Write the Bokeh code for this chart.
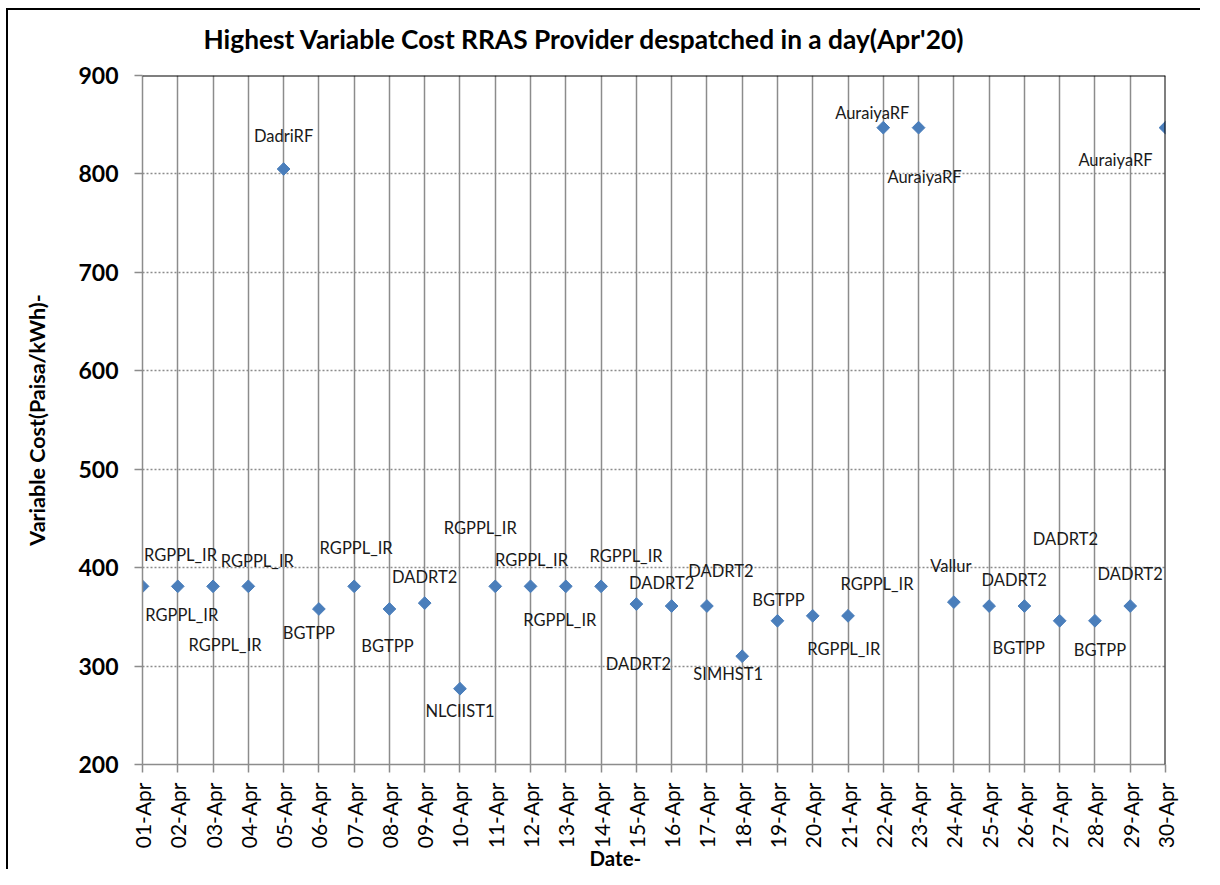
import math
from bokeh.plotting import figure
from bokeh.models import (ColumnDataSource, Range1d, FixedTicker, Span, Title)
from bokeh.core.properties import value
from bokeh.embed import file_html
from bokeh.resources import INLINE

# ---- data ----
dates = ["01-Apr", "02-Apr", "03-Apr", "04-Apr", "05-Apr", "06-Apr", "07-Apr", "08-Apr",
         "09-Apr", "10-Apr", "11-Apr", "12-Apr", "13-Apr", "14-Apr", "15-Apr", "16-Apr",
         "17-Apr", "18-Apr", "19-Apr", "20-Apr", "21-Apr", "22-Apr", "23-Apr", "24-Apr",
         "25-Apr", "26-Apr", "27-Apr", "28-Apr", "29-Apr", "30-Apr"]
cost = [381, 381, 381, 381, 805, 358, 381, 358, 364, 277,
        381, 381, 381, 381, 363, 361, 361, 310, 346, 351,
        351, 847, 847, 365, 361, 361, 346, 346, 361, 847]
provider = ["RGPPL_IR", "RGPPL_IR", "RGPPL_IR", "RGPPL_IR", "DadriRF", "BGTPP", "RGPPL_IR", "BGTPP",
            "DADRT2", "NLCIIST1", "RGPPL_IR", "RGPPL_IR", "RGPPL_IR", "RGPPL_IR", "DADRT2", "DADRT2",
            "DADRT2", "SIMHST1", "BGTPP", "RGPPL_IR", "RGPPL_IR", "AuraiyaRF", "AuraiyaRF", "Vallur",
            "DADRT2", "DADRT2", "BGTPP", "BGTPP", "DADRT2", "AuraiyaRF"]
y_ticks = [200, 300, 400, 500, 600, 700, 800, 900]

# label placement (screen px offsets from each marker, +dy = down)
lab_dx = [38, 4, 12, 9, 0, -10, 2, -2, 0, 0, -15, 1, -6, 25, 2, -10, 14, -14, 1, 31,
          29, -11, 6, -3, 25, 41, -41, 5, 0, -50]
lab_dy = [-31, 29, 59, -25, -33, 24, -38, 37, -26, 22, -58, -26, 34, -30, 60, -23, -35, 18, -21, 33,
          -32, -15, 49, -36, -26, -67, 27, 29, -32, 32]

day = list(range(1, len(dates) + 1))

src = ColumnDataSource(dict(x=day, y=cost, name=provider, dx=lab_dx, dy=lab_dy))

FONT = "Lato"
GRAY = "#8c8c8c"

p = figure(width=1204, height=869, output_backend="svg", toolbar_location=None,
           x_range=Range1d(day[0], day[-1]), y_range=Range1d(200, 900),
           min_border_left=142, min_border_right=39, min_border_top=75, min_border_bottom=105)

p.border_fill_color = None
p.background_fill_color = "white"
p.outline_line_color = None
# outer chart border (left and top edges), painted behind the transparent canvas border
p.styles = {
    "background-color": "#ffffff",
    "background-image": ("linear-gradient(#ffffff, #ffffff), "
                         "linear-gradient(#000000, #000000), linear-gradient(#000000, #000000)"),
    "background-size": "4px 100%, 2px 100%, 100% 2px",
    "background-position": "right 0px top 0px, 6px 8px, 6px 8px",
    "background-repeat": "no-repeat",
}

# title
p.title.text = "Highest Variable Cost RRAS Provider despatched in a day(Apr'20)"
p.title.text_font = FONT
p.title.text_font_size = "26.3px"
p.title.text_font_style = "bold"
p.title.text_color = "black"
p.title.align = "left"
p.title.offset = 61
p.title.standoff = 41

# axes
p.xaxis.ticker = FixedTicker(ticks=day)
p.xaxis.major_label_overrides = {d: s for d, s in zip(day, dates)}
p.xaxis.major_label_orientation = math.pi / 2
p.yaxis.ticker = FixedTicker(ticks=y_ticks)
for ax in (p.xaxis, p.yaxis):
    ax.axis_line_color = GRAY
    ax.axis_line_width = 1.5
    ax.major_tick_line_color = GRAY
    ax.major_tick_line_width = 1.5
    ax.major_tick_out = 8
    ax.major_tick_in = 0
    ax.minor_tick_line_color = None
    ax.major_label_text_font = FONT
    ax.major_label_text_color = "black"

p.xaxis.major_label_text_font_size = "21px"
p.xaxis.major_label_standoff = 10
p.yaxis.major_label_text_font_size = "23px"
p.yaxis.major_label_text_font_style = "bold"
p.yaxis.major_label_standoff = 16

p.yaxis.axis_label = "Variable Cost(Paisa/kWh)-"
p.yaxis.axis_label_text_font = FONT
p.yaxis.axis_label_text_font_size = "21.5px"
p.yaxis.axis_label_text_font_style = "bold"
p.yaxis.axis_label_text_color = "black"
p.yaxis.axis_label_standoff = 25

# x axis title, placed below the tick labels
p.add_layout(Title(text="Date-", align="left", offset=447, standoff=-16,
                   text_font=FONT, text_font_size="20.5px", text_font_style="bold",
                   text_color="black"), "below")

# grids
p.xgrid.grid_line_color = GRAY
p.xgrid.grid_line_width = 1.5
p.ygrid.grid_line_color = GRAY
p.ygrid.grid_line_width = 1.5
p.ygrid.grid_line_dash = "2 2"

# plot-area border (top and right)
p.add_layout(Span(location=900, dimension="width", line_color="black", line_width=2))
p.add_layout(Span(location=day[-1], dimension="height", line_color="black", line_width=2))

# markers
p.scatter("x", "y", source=src, marker="square", angle=math.pi / 4, size=9,
          fill_color="#4a7ebb", line_color="#4a7ebb")

# data labels
p.text("x", "y", text="name", source=src, x_offset="dx", y_offset="dy",
       text_align="center", text_baseline="middle",
       text_font=value(FONT), text_font_size="16.5px", text_color="#1a1a1a")

open("out.html", "w").write(file_html(p, INLINE))
